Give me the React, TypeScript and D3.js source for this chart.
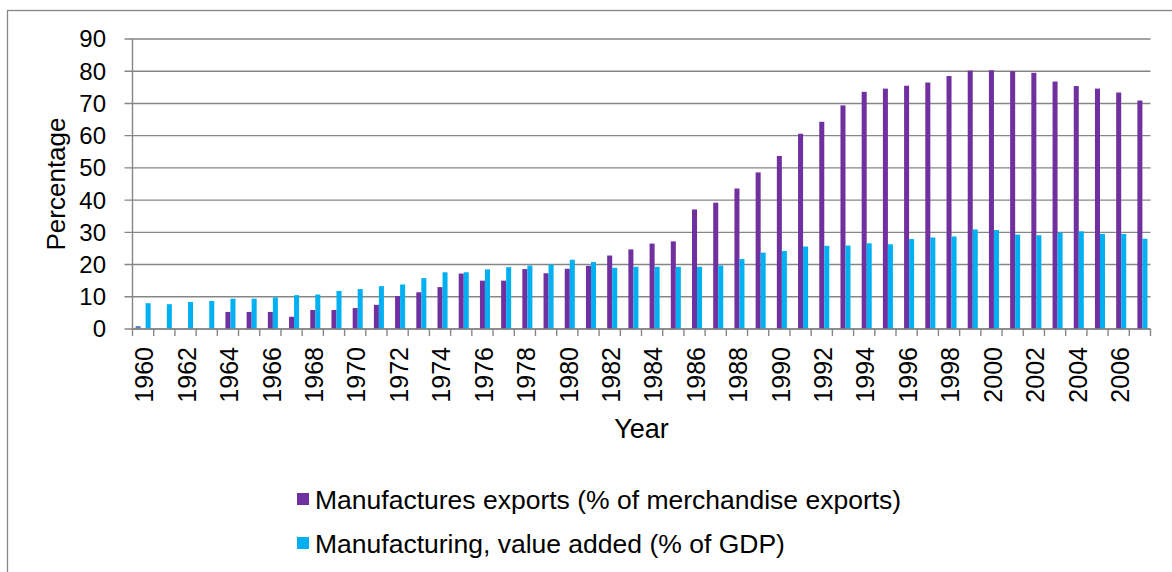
import * as d3 from "d3";

const years = d3.range(1960, 2008).map(String);

// Manufactures exports (% of merchandise exports)
const exportsShare: (number | null)[] = [
  null, null, null, null, 5.3, 5.3, 5.3, 3.8, 5.9, 5.9,
  6.5, 7.5, 10.2, 11.4, 13.0, 17.2, 15.0, 15.0, 18.6, 17.3,
  18.7, 19.6, 22.8, 24.7, 26.5, 27.2, 37.1, 39.2, 43.6, 48.6,
  53.7, 60.6, 64.3, 69.4, 73.6, 74.6, 75.5, 76.5, 78.5, 80.2,
  80.3, 80.0, 79.5, 76.8, 75.4, 74.6, 73.4, 70.9,
];

// Manufacturing, value added (% of GDP)
const valueAdded: (number | null)[] = [
  8.0, 7.7, 8.4, 8.7, 9.4, 9.4, 9.8, 10.5, 10.7, 11.8,
  12.4, 13.3, 13.8, 15.8, 17.6, 17.6, 18.5, 19.2, 19.7, 20.0,
  21.5, 20.8, 19.0, 19.3, 19.3, 19.3, 19.3, 19.7, 21.7, 23.7,
  24.2, 25.6, 25.8, 25.9, 26.6, 26.3, 27.9, 28.4, 28.7, 30.9,
  30.7, 29.3, 29.1, 29.9, 30.3, 29.5, 29.5, 28.0,
];

// unlabelled series, only visible in 1960
const unlabelled: (number | null)[] = years.map((_, i) => (i === 0 ? 0.9 : null));

const yTicks = [0, 10, 20, 30, 40, 50, 60, 70, 80, 90];

const seriesKeys = ["unlabelled", "exports", "valueAdded"];
const seriesColors: Record<string, string> = {
  unlabelled: "#4f81bd",
  exports: "#7030a0",
  valueAdded: "#00b0f0",
};
const seriesValues: Record<string, (number | null)[]> = {
  unlabelled,
  exports: exportsShare,
  valueAdded,
};
const legendItems = [
  { key: "exports", label: "Manufactures exports (% of merchandise exports)" },
  { key: "valueAdded", label: "Manufacturing, value added (% of GDP)" },
];

const W = 1172;
const H = 572;
const plot = { left: 132.5, right: 1150.5, top: 39, bottom: 329 };
const font = "'Liberation Sans', Arial, sans-serif";
const gray = "#868686";

export default function App() {
  const x = d3.scaleBand<string>().domain(years).range([plot.left, plot.right]);
  const y = d3.scaleLinear().domain([0, 90]).range([plot.bottom, plot.top]);
  const bw = x.bandwidth();
  const clusterW = bw * 0.71;
  const x1 = d3.scaleBand<string>().domain(seriesKeys).range([0, clusterW]);
  const offset = (bw - clusterW) / 2;

  return (
    <div style={{ position: "absolute", left: 0, top: 0 }}>
      <svg width={W} height={H} style={{ display: "block", background: "#fff" }} fontFamily={font}>
        <rect x={7.5} y={10.5} width={W + 10} height={H + 10} fill="none" stroke={gray} strokeWidth={1.3} />

        {yTicks.map((t) => (
          <g key={t}>
            <line x1={plot.left - 8} x2={plot.right} y1={y(t)} y2={y(t)} stroke={gray} strokeWidth={1.4} />
            <text x={106} y={y(t)} dy="0.35em" textAnchor="end" fontSize={24} fill="#000">
              {t}
            </text>
          </g>
        ))}

        {seriesKeys.map((k) =>
          years.map((yr, i) => {
            const v = seriesValues[k][i];
            if (v == null) return null;
            return (
              <rect
                key={k + yr}
                x={(x(yr) as number) + offset + (x1(k) as number)}
                y={y(v)}
                width={x1.bandwidth()}
                height={plot.bottom - y(v)}
                fill={seriesColors[k]}
              />
            );
          })
        )}

        <line x1={plot.left} x2={plot.left} y1={plot.top} y2={plot.bottom} stroke={gray} strokeWidth={1.4} />
        <line x1={plot.left} x2={plot.right} y1={plot.bottom} y2={plot.bottom} stroke={gray} strokeWidth={1.4} />
        {[...years, "end"].map((yr, i) => {
          const px = plot.left + i * bw;
          return <line key={"t" + yr} x1={px} x2={px} y1={plot.bottom} y2={plot.bottom + 7} stroke={gray} strokeWidth={1.4} />;
        })}

        {years
          .filter((_, i) => i % 2 === 0)
          .map((yr) => {
            const cx = (x(yr) as number) + bw / 2 + 1.5;
            return (
              <text
                key={"l" + yr}
                transform={`translate(${cx},${plot.bottom + 18}) rotate(-90)`}
                dy="0.35em"
                textAnchor="end"
                fontSize={25}
                fill="#000"
              >
                {yr}
              </text>
            );
          })}

        <text transform={`translate(65,${(plot.top + plot.bottom) / 2}) rotate(-90)`} textAnchor="middle" fontSize={26} fill="#000">
          Percentage
        </text>
        <text x={(plot.left + plot.right) / 2} y={438} textAnchor="middle" fontSize={27} fill="#000">
          Year
        </text>

        {legendItems.map((d, i) => (
          <g key={d.key} transform={`translate(0,${i * 44})`}>
            <rect x={297} y={493} width={12} height={12} fill={seriesColors[d.key]} />
            <text x={315} y={509} fontSize={26.5} fill="#000">
              {d.label}
            </text>
          </g>
        ))}
      </svg>
    </div>
  );
}
